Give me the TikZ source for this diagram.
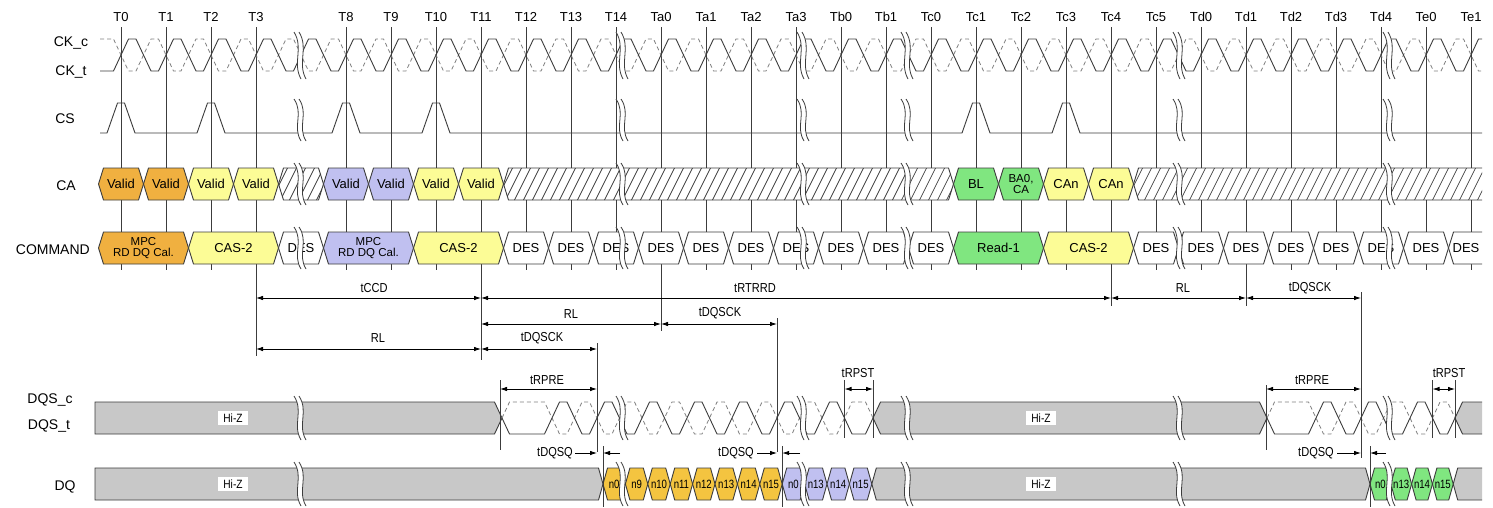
\documentclass[tikz,border=0pt]{standalone}
\usepackage{fontspec}
\setmainfont{Liberation Sans}
\newfontfamily\narrowfont[FakeStretch=0.85]{Liberation Sans}
\newfontfamily\dqfont[FakeStretch=0.8]{Liberation Sans}
\usetikzlibrary{arrows.meta}
\definecolor{cOrange}{RGB}{240,176,64}
\definecolor{cYellow}{RGB}{252,252,150}
\definecolor{cPurple}{RGB}{192,192,240}
\definecolor{cGreen}{RGB}{128,230,128}
\definecolor{cGold}{RGB}{244,196,64}
\definecolor{cBand}{RGB}{200,200,200}
\definecolor{cLine}{RGB}{60,60,60}
\tikzset{
  clk/.style={draw=cLine, line width=0.7pt},
  sigline/.style={draw=cLine, line width=0.9pt},
  dashline/.style={draw=gray, line width=0.8pt, dash pattern=on 4pt off 3pt},
  cellout/.style={draw=cLine, line width=0.9pt},
  celltxt/.style={font=\fontsize{13}{13}\selectfont, align=center, inner sep=0pt},
  celltxtsm/.style={font=\fontsize{11.5}{11}\selectfont, align=center, inner sep=0pt},
  siglab/.style={font=\fontsize{14}{14}\selectfont, anchor=base, inner sep=0pt},
  tlab/.style={font=\fontsize{13}{13}\selectfont, anchor=base, inner sep=0pt},
  tmlab/.style={font=\narrowfont\fontsize{13}{13}\selectfont, inner sep=0pt},
  dimarrow/.style={{Latex[length=7pt,width=4.5pt]}-{Latex[length=7pt,width=4.5pt]}, line width=0.8pt},
  onehead/.style={-{Latex[length=7pt,width=4.5pt]}, line width=0.8pt},
  bandstyle/.style={draw=cLine, fill=cBand, line width=0.9pt},
  hatchline/.style={draw=cLine, line width=0.7pt},
  brkline/.style={draw=cLine, line width=0.8pt},
  hiz/.style={fill=white, font=\narrowfont\fontsize{12}{12}\selectfont, inner xsep=5pt, inner ysep=3pt},
  dqtxt/.style={font=\dqfont\fontsize{12}{12}\selectfont, inner sep=0pt},
}
\newcommand\tdcell[7]{%
  \draw[cellout,fill=#5] (#2,#4) -- (#2+5,#4-16) -- (#3-5,#4-16) -- (#3,#4) -- (#3-5,#4+16) -- (#2+5,#4+16) -- cycle;
  \node[#6] (#1) at ({(#2+#3)/2},#4) {#7};}
\newcommand\tddq[5]{%
  \draw[cellout,fill=#4] (#2,484) -- (#2+4.5,468) -- (#3-4.5,468) -- (#3,484) -- (#3-4.5,500) -- (#2+4.5,500) -- cycle;
  \node[dqtxt] (#1) at ({(#2+#3)/2},484) {#5};}
\newcommand\tdhatch[3]{%
  \begin{scope}
    \clip (#1,#3) -- (#1+5,#3-16) -- (#2-5,#3-16) -- (#2,#3) -- (#2-5,#3+16) -- (#1+5,#3+16) -- cycle;
    \fill[white] (#1,#3-16) rectangle (#2,#3+16);
    \pgfmathtruncatemacro\tdn{(#2-#1)/9+3}
    \foreach \i in {0,...,\tdn} \draw[hatchline] ({#1-16+9*\i},#3+16) -- ++(16,-32);
  \end{scope}
  \draw[cellout] (#1,#3) -- (#1+5,#3-16) -- (#2-5,#3-16) -- (#2,#3) -- (#2-5,#3+16) -- (#1+5,#3+16) -- cycle;}
\newcommand\tdbreak[3]{%
  \fill[white] (#1-5,#2) .. controls (#1+5,{#2+0.35*(#3-#2)}) and (#1-7,{#2+0.65*(#3-#2)}) .. (#1+2,#3) -- (#1+7,#3) .. controls (#1-2,{#2+0.65*(#3-#2)}) and (#1+10,{#2+0.35*(#3-#2)}) .. (#1,#2) -- cycle;
  \draw[brkline] (#1-5,#2) .. controls (#1+5,{#2+0.35*(#3-#2)}) and (#1-7,{#2+0.65*(#3-#2)}) .. (#1+2,#3);
  \draw[brkline] (#1,#2) .. controls (#1+10,{#2+0.35*(#3-#2)}) and (#1-2,{#2+0.65*(#3-#2)}) .. (#1+7,#3);}
\begin{document}
\begin{tikzpicture}[x=1pt,y=-1pt]
\useasboundingbox (0,0) rectangle (1493,507);
\fill[white] (0,0) rectangle (1493,507);
% signal names
\node[siglab] (lckc) at (71,46) {CK\_c};
\node[siglab] (lckt) at (71,75) {CK\_t};
\node[siglab] (lcs) at (65,123) {CS};
\node[siglab] (lca) at (66,190) {CA};
\node[siglab,anchor=base east] (lcmd) at (90,254) {COMMAND};
\node[siglab] (ldqsc) at (50,403) {DQS\_c};
\node[siglab] (ldqst) at (49,429) {DQS\_t};
\node[siglab] (ldq) at (65,490) {DQ};
\begin{scope}
\clip (0,0) rectangle (1482,507);
% clock lines and labels
\foreach \k/\lab in {0/T0,1/T1,2/T2,3/T3,5/T8,6/T9,7/T10,8/T11,9/T12,10/T13,11/T14,12/Ta0,13/Ta1,14/Ta2,15/Ta3,16/Tb0,17/Tb1,18/Tc0,19/Tc1,20/Tc2,21/Tc3,22/Tc4,23/Tc5,24/Td0,25/Td1,26/Td2,27/Td3,28/Td4,29/Te0,30/Te1} {
  \coordinate (c\k) at ({121+45*\k},0);
  \node[tlab] (t\k) at ({121+45*\k},21.5) {\lab};
  \draw[clk] ({121+45*\k},27) -- ({121+45*\k},270);
}
\draw[clk] (256,270) -- (256,356);
\draw[clk] (481,270) -- (481,360);
\draw[clk] (661,270) -- (661,331);
\draw[clk] (1111,270) -- (1111,306);
\draw[clk] (1246,270) -- (1246,306);
% CK
\draw[dashline] (100,39) foreach \k in {0,...,30} { -- ({113.5+45*\k},39) -- ({128.5+45*\k},71) -- ({136+45*\k},71) -- ({151+45*\k},39) };
\draw[sigline] (100,71) foreach \k in {0,...,30} { -- ({113.5+45*\k},71) -- ({128.5+45*\k},39) -- ({136+45*\k},39) -- ({151+45*\k},71) };
% CS
\draw[sigline] (100,133) foreach \t in {121,211,346,436,976,1066} { -- (\t-14,133) -- (\t-3.5,103) -- (\t+3.5,103) -- (\t+14,133) } -- (1482,133);
% CA row
\tdcell{ca0}{98.5}{143.5}{184}{cOrange}{celltxt}{Valid}
\tdcell{ca1}{143.5}{188.5}{184}{cOrange}{celltxt}{Valid}
\tdcell{ca2}{188.5}{233.5}{184}{cYellow}{celltxt}{Valid}
\tdcell{ca3}{233.5}{278.5}{184}{cYellow}{celltxt}{Valid}
\tdhatch{278.5}{323.5}{184}
\tdcell{ca8}{323.5}{368.5}{184}{cPurple}{celltxt}{Valid}
\tdcell{ca9}{368.5}{413.5}{184}{cPurple}{celltxt}{Valid}
\tdcell{ca10}{413.5}{458.5}{184}{cYellow}{celltxt}{Valid}
\tdcell{ca11}{458.5}{503.5}{184}{cYellow}{celltxt}{Valid}
\tdhatch{503.5}{953.5}{184}
\tdcell{cac1}{953.5}{998.5}{184}{cGreen}{celltxt}{BL}
\tdcell{cac2}{998.5}{1043.5}{184}{cGreen}{celltxtsm}{BA0,\\CA}
\tdcell{cac3}{1043.5}{1088.5}{184}{cYellow}{celltxt}{CAn}
\tdcell{cac4}{1088.5}{1133.5}{184}{cYellow}{celltxt}{CAn}
\tdhatch{1133.5}{1500}{184}
% COMMAND row
\tdcell{cm0}{98.5}{188.5}{248}{cOrange}{celltxtsm}{MPC\\RD DQ Cal.}
\tdcell{cm2}{188.5}{278.5}{248}{cYellow}{celltxt}{CAS-2}
\tdcell{cm4}{278.5}{323.5}{248}{white}{celltxt}{DES}
\tdcell{cm8}{323.5}{413.5}{248}{cPurple}{celltxtsm}{MPC\\RD DQ Cal.}
\tdcell{cm10}{413.5}{503.5}{248}{cYellow}{celltxt}{CAS-2}
\foreach \k in {9,...,18} {\tdcell{cmd\k}{98.5+45*\k}{143.5+45*\k}{248}{white}{celltxt}{DES}}
\tdcell{cmr}{953.5}{1043.5}{248}{cGreen}{celltxt}{Read-1}
\tdcell{cmc}{1043.5}{1133.5}{248}{cYellow}{celltxt}{CAS-2}
\foreach \k in {23,...,29} {\tdcell{cmd\k}{98.5+45*\k}{143.5+45*\k}{248}{white}{celltxt}{DES}}
\draw[cellout,fill=white] (1448.5,248) -- (1453.5,232) -- (1500,232) -- (1500,264) -- (1453.5,264) -- cycle;
\node[celltxt] (cmd30) at (1466,248) {DES};
% DQS bands
\draw[bandstyle] (95,402) -- (494.5,402) -- (502,418) -- (494.5,434) -- (95,434) -- cycle;
\draw[bandstyle] (873,418) -- (880.5,402) -- (1259.5,402) -- (1267,418) -- (1259.5,434) -- (880.5,434) -- cycle;
\draw[bandstyle] (1455,418) -- (1462.5,402) -- (1500,402) -- (1500,434) -- (1462.5,434) -- cycle;
% DQS waveforms
\draw[dashline] (502,418) -- (509.5,402) -- (544.5,402) foreach \j in {0,...,6} { -- ({559.5+45*\j},434) -- ({567+45*\j},434) -- ({582+45*\j},402) -- ({589.5+45*\j},402) } -- (865.5,402) -- (873,418);
\draw[sigline] (502,418) -- (509.5,434) -- (544.5,434) foreach \j in {0,...,6} { -- ({559.5+45*\j},402) -- ({567+45*\j},402) -- ({582+45*\j},434) -- ({589.5+45*\j},434) } -- (865.5,434) -- (873,418);
\draw[dashline] (1267,418) -- (1274.5,402) -- (1308.5,402) foreach \j in {0,1} { -- ({1323.5+45*\j},434) -- ({1331+45*\j},434) -- ({1346+45*\j},402) -- ({1353.5+45*\j},402) } -- (1402.5,402) -- (1417.5,434) -- (1425,434) -- (1440,402) -- (1447.5,402) -- (1455,418);
\draw[sigline] (1267,418) -- (1274.5,434) -- (1308.5,434) foreach \j in {0,1} { -- ({1323.5+45*\j},402) -- ({1331+45*\j},402) -- ({1346+45*\j},434) -- ({1353.5+45*\j},434) } -- (1402.5,434) -- (1417.5,402) -- (1425,402) -- (1440,434) -- (1447.5,434) -- (1455,418);
% DQ bands
\draw[bandstyle] (95,468) -- (598.5,468) -- (603,484) -- (598.5,500) -- (95,500) -- cycle;
\draw[bandstyle] (871.8,484) -- (876.3,468) -- (1365.5,468) -- (1370,484) -- (1365.5,500) -- (876.3,500) -- cycle;
\draw[bandstyle] (1453.2,484) -- (1457.7,468) -- (1500,468) -- (1500,500) -- (1457.7,500) -- cycle;
% DQ cells
\foreach \i/\t in {0/n0,1/n9,2/n10,3/n11,4/n12,5/n13,6/n14,7/n15} {\tddq{dqa\i}{603+22.4*\i}{625.4+22.4*\i}{cGold}{\t}}
\foreach \i/\t in {0/n0,1/n13,2/n14,3/n15} {\tddq{dqb\i}{782.2+22.4*\i}{804.6+22.4*\i}{cPurple}{\t}}
\foreach \i/\t in {0/n0,1/n13,2/n14,3/n15} {\tddq{dqc\i}{1370+20.8*\i}{1390.8+20.8*\i}{cGreen}{\t}}
% vertical reference lines in DQS / DQ area
\coordinate (q1) at (597,0); \coordinate (q1d) at (603,0);
\coordinate (q2) at (777,0); \coordinate (q2d) at (782.2,0);
\coordinate (q3) at (1361,0); \coordinate (q3d) at (1370,0);
\coordinate (p1) at (500,0); \coordinate (p2) at (1266,0);
\coordinate (s1) at (844.5,0); \coordinate (s2) at (873,0);
\coordinate (s3) at (1432.5,0); \coordinate (s4) at (1455,0);
\draw[clk] (597,343) -- (597,452);
\draw[clk] (777,318) -- (777,452);
\draw[clk] (1361,292) -- (1361,458);
\draw[clk] (603,446) -- (603,507);
\draw[clk] (782.2,446) -- (782.2,507);
\draw[clk] (1370,446) -- (1370,507);
\draw[clk] (500,380) -- (500,450);
\draw[clk] (1266,385) -- (1266,450);
\foreach \x in {844.5,873,1432.5,1455} \draw[clk] (\x,380) -- (\x,438);
% breaks
\foreach \bx in {299,621,802,906,1178,1388} {
  \tdbreak{\bx}{32}{79}
  \tdbreak{\bx}{99}{141}
  \tdbreak{\bx}{163}{205}
  \tdbreak{\bx}{227}{269}
  \tdbreak{\bx}{396}{440}
  \tdbreak{\bx}{462}{506}
}
\end{scope}
% Hi-Z labels
\node[hiz] (hz1) at (233,418) {Hi-Z};
\node[hiz] (hz2) at (233,484) {Hi-Z};
\node[hiz] (hz3) at (1041,418) {Hi-Z};
\node[hiz] (hz4) at (1041,484) {Hi-Z};
% timing arrows
\coordinate (rA) at (0,298); \coordinate (rB) at (0,324); \coordinate (rC) at (0,349);
\coordinate (rD) at (0,389); \coordinate (rQ) at (0,453);
\draw[dimarrow] (c3 |- rA) -- (c8 |- rA);
\draw[dimarrow] (c8 |- rA) -- (c22 |- rA);
\draw[dimarrow] (c22 |- rA) -- (c25 |- rA);
\draw[dimarrow] (c25 |- rA) -- (q3 |- rA);
\draw[dimarrow] (c8 |- rB) -- (c12 |- rB);
\draw[dimarrow] (c12 |- rB) -- (q2 |- rB);
\draw[dimarrow] (c3 |- rC) -- (c8 |- rC);
\draw[dimarrow] (c8 |- rC) -- (q1 |- rC);
\draw[dimarrow] (p1 |- rD) -- (q1 |- rD);
\draw[dimarrow] (s1 |- rD) -- (s2 |- rD);
\draw[dimarrow] (p2 |- rD) -- (q3 |- rD);
\draw[dimarrow] (s3 |- rD) -- (s4 |- rD);
\coordinate (a1) at (575,453); \coordinate (b1) at (620,453);
\coordinate (a2) at (757,453); \coordinate (b2) at (800,453);
\coordinate (a3) at (1337,453); \coordinate (b3) at (1386,453);
\draw[onehead] (a1) -- (q1 |- rQ);
\draw[onehead] (b1) -- (q1d |- rQ);
\draw[onehead] (a2) -- (q2 |- rQ);
\draw[onehead] (b2) -- (q2d |- rQ);
\draw[onehead] (a3) -- (q3 |- rQ);
\draw[onehead] (b3) -- (q3d |- rQ);
% timing labels
\node[tmlab] (ltccd) at (374,288) {tCCD};
\node[tmlab] (ltrtrrd) at (755,288) {tRTRRD};
\node[tmlab] (lrl1) at (1183,288) {RL};
\node[tmlab] (ltdqsck1) at (1310,288) {tDQSCK};
\node[tmlab] (lrl2) at (571,314) {RL};
\node[tmlab] (ltdqsck2) at (720,313) {tDQSCK};
\node[tmlab] (lrl3) at (378,338) {RL};
\node[tmlab] (ltdqsck3) at (542,338) {tDQSCK};
\node[tmlab] (ltrpre1) at (547,380) {tRPRE};
\node[tmlab] (ltrpst1) at (858,373) {tRPST};
\node[tmlab] (ltrpre2) at (1312,380) {tRPRE};
\node[tmlab] (ltrpst2) at (1449,373) {tRPST};
\node[tmlab] (ltdqsq1) at (555,453) {tDQSQ};
\node[tmlab] (ltdqsq2) at (736,453) {tDQSQ};
\node[tmlab] (ltdqsq3) at (1316,453) {tDQSQ};
\end{tikzpicture}
\end{document}
